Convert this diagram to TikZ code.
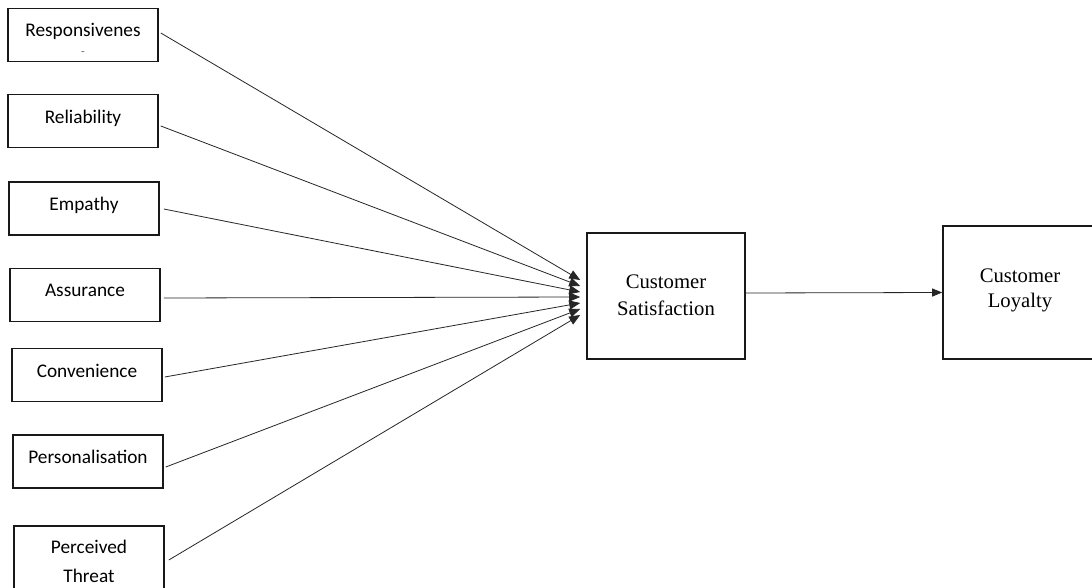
\documentclass[tikz,border=0pt]{standalone}
\usepackage{fontspec}
\setmainfont{Liberation Serif}
\newfontfamily\calfont{Carlito}
\usetikzlibrary{arrows.meta}
\begin{document}
\begin{tikzpicture}[x=1pt,y=-1pt,
  inbox/.style={draw=black!90,line width=1.6pt,minimum width=150pt,minimum height=53pt,inner sep=0pt},
  bigbox/.style={draw=black!90,line width=1.6pt,inner sep=0pt},
  ltext/.style={anchor=base,inner sep=0pt,font=\calfont\fontsize{19.3}{22}\selectfont},
  rtext/.style={anchor=base,inner sep=0pt,font=\fontsize{20.7}{24}\selectfont},
  link/.style={draw=black!85,line width=0.8pt,-{Triangle[length=11pt,width=9pt]}}
]
\useasboundingbox (0,0) rectangle (1092,588);
\fill[white] (0,0) rectangle (1092,588);

% left boxes
\node[inbox] (b1) at (83,35) {};
\node[inbox] (b2) at (83,121) {};
\node[inbox] (b3) at (84,208.5) {};
\node[inbox] (b4) at (85,295) {};
\node[inbox] (b5) at (87,375) {};
\node[inbox] (b6) at (88,461.5) {};
\node[inbox,minimum height=80pt] (b7) at (89,566) {};

\node[ltext] (t1) at (83,36.5) {Responsivenes};
\node[anchor=base,inner sep=0pt,text=black!60,font=\calfont\fontsize{12}{12}\selectfont] (t1b) at (83,56) {-};
\node[ltext] (t2) at (83,123.5) {Reliability};
\node[ltext] (t3) at (84,210.5) {Empathy};
\node[ltext] (t4) at (85,296.5) {Assurance};
\node[ltext] (t5) at (87,377) {Convenience};
\node[ltext] (t6) at (88,463.5) {Personalisation};
\node[ltext] (t7a) at (89,553) {Perceived};
\node[ltext] (t7b) at (89,582) {Threat};

% right boxes
\node[bigbox,minimum width=158pt,minimum height=126pt] (cs) at (666,296) {};
\node[rtext] (cs1) at (666,288) {Customer};
\node[rtext] (cs2) at (666,315) {Satisfaction};

\node[bigbox,minimum width=154pt,minimum height=133pt] (cl) at (1020,292.5) {};
\node[rtext] (cl1) at (1020,282) {Customer};
\node[rtext] (cl2) at (1020,307.5) {Loyalty};

% connectors
\draw[link] ([shift={(2,-2)}]b1.east) -- ([shift={(-6,-16)}]cs.west);
\draw[link] ([shift={(2,5)}]b2.east) -- ([shift={(-6,-10)}]cs.west);
\draw[link] ([shift={(4,0.5)}]b3.east) -- ([shift={(-6,-4)}]cs.west);
\draw[link] ([shift={(3,3)}]b4.east) -- ([shift={(-6,1)}]cs.west);
\draw[link] ([shift={(2,2)}]b5.east) -- ([shift={(-6,7)}]cs.west);
\draw[link] ([shift={(2,5.5)}]b6.east) -- ([shift={(-6,13)}]cs.west);
\draw[link] ([shift={(4,-6)}]b7.east) -- ([shift={(-6,19)}]cs.west);

\draw[link,-{Triangle[length=10pt,width=8pt]}] ([yshift=3pt]cs.east) -- (cl.west);
\end{tikzpicture}
\end{document}
